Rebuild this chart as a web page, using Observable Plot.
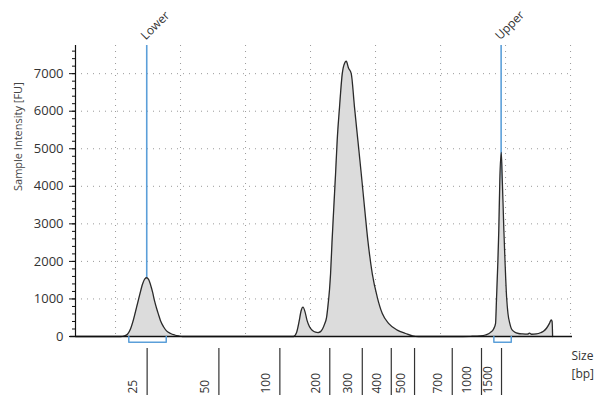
<!DOCTYPE html>
<html>
<head>
<meta charset="utf-8">
<script src="https://cdn.jsdelivr.net/npm/d3@7"></script>
<script src="https://cdn.jsdelivr.net/npm/@observablehq/plot@0.6"></script>
<style>
  html, body { margin: 0; padding: 0; background: #fff; }
  #chart { width: 594px; height: 395px; }
</style>
</head>
<body>
<div id="chart"></div>
<script>
// Migration time (s) and fluorescence (FU) of the electropherogram trace
const traceTime = [16.92, 20.38, 20.69, 20.92, 21.15, 21.38, 21.62, 21.85, 22.08, 22.27, 22.38, 22.54, 22.69, 22.85, 23.00, 23.15, 23.31, 23.46, 23.69, 23.92, 24.23, 24.54, 24.85, 25.15,
  33.69, 33.92, 34.12, 34.27, 34.42, 34.58, 34.73, 34.92, 35.15, 35.38, 35.58, 35.77, 35.92, 36.08, 36.23, 36.35, 36.46, 36.54, 36.65, 36.79, 36.92, 37.05, 37.23, 37.44, 37.62, 37.75, 37.92, 38.13, 38.38, 38.64, 38.90, 39.15, 39.41, 39.75, 40.13, 40.52, 41.02, 41.67, 42.31, 42.85, 43.30,
  46.15, 47.31, 48.08, 48.46, 48.85, 49.08, 49.23, 49.31, 49.41, 49.48, 49.56, 49.67, 49.75, 49.81, 49.87, 49.97, 50.08, 50.19, 50.33, 50.46, 50.69, 51.00, 51.31, 51.69, 51.85, 52.00, 52.38, 52.69, 52.92, 53.15, 53.38, 53.52, 53.58, 53.62];
const traceFU = [0, 0, 15, 60, 200, 450, 780, 1100, 1400, 1540, 1565, 1520, 1380, 1180, 950, 760, 580, 420, 260, 150, 80, 40, 15, 0,
  0, 100, 400, 680, 780, 650, 430, 260, 160, 115, 105, 130, 200, 330, 500, 850, 1250, 1670, 2500, 3445, 4300, 5222, 6110, 7000, 7280, 7330, 7150, 7000, 6110, 5222, 4333, 3445, 2555, 1670, 1050, 610, 345, 170, 80, 15, 0,
  0, 5, 15, 40, 110, 200, 345, 1050, 2000, 2825, 4157, 4900, 4157, 3500, 2825, 1900, 1050, 600, 345, 200, 120, 80, 70, 65, 90, 60, 70, 100, 140, 220, 350, 445, 400, 0];

// Ladder: size (bp) and migration time (s)
const ladderSizes = [25, 50, 100, 200, 300, 400, 500, 700, 1000, 1500];
const ladderTimes = [22.43, 27.95, 32.64, 36.48, 38.98, 41.21, 43.00, 45.90, 48.15, 49.69];

// Markers
const markerNames = ["Lower", "Upper"];
const markerTimes = [22.40, 49.66];
const markerWindowStart = [21.02, 49.10];
const markerWindowEnd = [23.90, 50.44];

// Axis settings
const xDomain = [16.92, 55.15];
const yDomain = [0, 7750];
const yMajorTicks = [0, 1000, 2000, 3000, 4000, 5000, 6000, 7000];
const yMinorTicks = d3.range(0, 7800, 200);
const timeGrid = [20, 25, 30, 35, 40, 45, 50, 55];

const trace = traceTime.map((t, i) => ({t, fu: traceFU[i]}));
const ladder = ladderSizes.map((s, i) => ({size: s, t: ladderTimes[i]}));
const markers = markerNames.map((n, i) => ({name: n, t: markerTimes[i]}));
const windows = [];
markerNames.forEach((n, i) => {
  windows.push({z: n, t: markerWindowStart[i], fu: 0});
  windows.push({z: n, t: markerWindowStart[i], fu: -150});
  windows.push({z: n, t: markerWindowEnd[i], fu: -150});
  windows.push({z: n, t: markerWindowEnd[i], fu: 0});
});

const blue = "#5b9fd9";
const dark = "#2a2a2a";

const chart = Plot.plot({
  width: 594,
  height: 395,
  marginLeft: 75,
  marginRight: 22,
  marginTop: 45,
  marginBottom: 59,
  style: {fontFamily: "'Open Sans', 'Noto Sans', sans-serif", fontSize: "12px", color: "#333", background: "#fff"},
  x: {domain: xDomain, axis: null},
  y: {domain: yDomain},
  marks: [
    Plot.gridX(timeGrid, {stroke: "#9a9a9a", strokeOpacity: 1, strokeDasharray: "1,5"}),
    Plot.gridY(yMajorTicks.slice(1), {stroke: "#9a9a9a", strokeOpacity: 1, strokeDasharray: "1,5"}),
    Plot.ruleX(markers, {x: "t", stroke: blue, strokeWidth: 1.6}),
    Plot.areaY(trace, {x: "t", y: "fu", fill: "#dcdcdc", curve: "monotone-x"}),
    Plot.lineY(trace, {x: "t", y: "fu", stroke: dark, strokeWidth: 1.3, curve: "monotone-x"}),
    Plot.ruleY([0], {x1: xDomain[0] - 0.4, x2: xDomain[1], stroke: "#111", strokeWidth: 1.6}),
    Plot.ruleX([xDomain[0]], {stroke: "#111", strokeWidth: 1.2}),
    Plot.axisY({ticks: yMajorTicks, tickSize: 6, tickPadding: 6, tickFormat: d3.format("d"), fontSize: 13, label: null, stroke: "#111", fill: "#333"}),
    Plot.axisY({ticks: yMinorTicks, tickSize: 3, tickFormat: () => "", label: null, stroke: "#111"}),
    Plot.line(windows, {x: "t", y: "fu", z: "z", stroke: blue, strokeWidth: 1.5}),
    Plot.ruleX(ladder, {x: "t", y1: -320, y2: -1700, stroke: "#333", strokeWidth: 1.2}),
    Plot.text(ladder, {x: "t", text: d => String(d.size), frameAnchor: "bottom", rotate: -90, textAnchor: "start", dx: -10, dy: 57, fontSize: 12, fill: "#333"}),
    Plot.text(markers, {x: "t", text: "name", frameAnchor: "top", rotate: -45, textAnchor: "start", dx: -7, dy: -11, fontSize: 12, fill: "#333"}),
    Plot.text(["Size"], {frameAnchor: "bottom-right", textAnchor: "start", dx: -1, dy: 23, fontSize: 12, fill: "#333"}),
    Plot.text(["[bp]"], {frameAnchor: "bottom-right", textAnchor: "start", dx: -1, dy: 41, fontSize: 12, fill: "#333"}),
    Plot.text(["Sample Intensity [FU]"], {frameAnchor: "left", rotate: -90, dx: -57, fontSize: 11, fill: "#444"})
  ]
});
document.getElementById("chart").appendChild(chart);
</script>
</body>
</html>
